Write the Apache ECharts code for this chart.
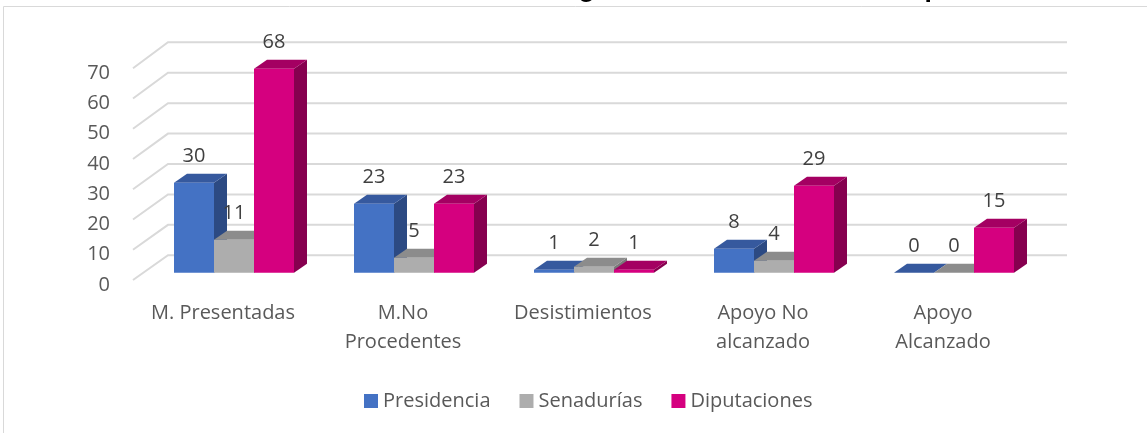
<!DOCTYPE html>
<html>
<head>
<meta charset="utf-8">
<script src="https://cdn.jsdelivr.net/npm/echarts@6/dist/echarts.min.js"></script>
<style>html,body{margin:0;padding:0;background:#fff;}#c{width:1147px;height:433px;}</style>
</head>
<body>
<div id="c"></div>
<script>
const categories = ['M. Presentadas', 'M.No\nProcedentes', 'Desistimientos', 'Apoyo No\nalcanzado', 'Apoyo\nAlcanzado'];
const seriesNames = ['Presidencia', 'Senadurías', 'Diputaciones'];
const presidencia = [30, 23, 1, 8, 0];
const senadurias = [11, 5, 2, 4, 0];
const diputaciones = [68, 23, 1, 29, 15];
const yTicks = [0, 10, 20, 30, 40, 50, 60, 70];
const titleText = 'Gráfica 1. Estatus de registro de candidaturas independientes';

const FONT = '"Open Sans", sans-serif';
const palettes = [
  { front: '#4472C4', top: '#36599E', side: '#2C4A83' },
  { front: '#ADADAD', top: '#8C8C8C', side: '#7A7A7A' },
  { front: '#D5007F', top: '#A40062', side: '#86004F' }
];
const DEPTH_X = 13, DEPTH_Y = -9;      // bar depth
const SHIFT_X = 11, SHIFT_Y = -7.3;    // bar plane offset from front plane
const WALL_X = 35;                     // back wall offset

function gridRender(params, api) {
  const cs = params.coordSys;
  const v = api.value(1);
  const y = api.coord([0, v])[1];
  const frac = (cs.y + cs.height - y) / cs.height;
  const dy = -(24.7 + 1.3 * frac);
  return {
    type: 'polyline',
    shape: { points: [[cs.x, y], [cs.x + WALL_X, y + dy], [cs.x + cs.width + 34, y + dy]] },
    style: { stroke: '#D9D9D9', lineWidth: 2, fill: null },
    silent: true
  };
}

function barRender(k) {
  return function (params, api) {
    const i = api.value(0);
    const v = api.value(1);
    const base = api.coord([i, 0]);
    const top = api.coord([i, v]);
    const bw = api.size([1, 0])[0] * 2 / 9;
    const x = base[0] - 1.5 * bw + k * bw + SHIFT_X;
    const baseY = base[1] + SHIFT_Y;
    const h = (base[1] - top[1]) * 0.992;
    const topY = baseY - h;
    const p = palettes[k];
    return {
      type: 'group',
      children: [
        { type: 'polygon', z2: k * 3 + 1,
          shape: { points: [[x + bw, topY], [x + bw + DEPTH_X, topY + DEPTH_Y], [x + bw + DEPTH_X, baseY + DEPTH_Y], [x + bw, baseY]] },
          style: { fill: p.side } },
        { type: 'polygon', z2: k * 3 + 2,
          shape: { points: [[x, topY], [x + DEPTH_X, topY + DEPTH_Y], [x + bw + DEPTH_X, topY + DEPTH_Y], [x + bw, topY]] },
          style: { fill: p.top } },
        { type: 'rect', z2: k * 3 + 3,
          shape: { x: x, y: topY, width: bw, height: h },
          style: { fill: p.front } },
        { type: 'text', z2: 100,
          style: { x: x + bw / 2, y: topY - 26, text: String(v), fill: '#404040',
                   font: '20px ' + FONT, align: 'center', verticalAlign: 'middle' } }
      ]
    };
  };
}

const values = [presidencia, senadurias, diputaciones];
const barSeries = values.map((arr, k) => ({
  name: seriesNames[k],
  type: 'custom',
  renderItem: barRender(k),
  itemStyle: { color: palettes[k].front },
  encode: { x: 0, y: 1 },
  data: arr.map((v, i) => [i, v])
}));

const chart = echarts.init(document.getElementById('c'), null, { renderer: 'canvas' });
chart.setOption({
  animation: false,
  color: palettes.map(p => p.front),
  title: {
    text: titleText,
    left: 284, top: -24.3, padding: 0,
    textStyle: { fontFamily: '"Liberation Sans", Arial, sans-serif', fontSize: 26.5, fontWeight: 'bold', color: '#000' }
  },
  graphic: [{
    type: 'rect', silent: true, z: -10,
    shape: { x: 3.5, y: 6.5, width: 1200, height: 500 },
    style: { fill: null, stroke: '#D9D9D9', lineWidth: 1 }
  }],
  grid: { left: 133, right: 114, top: 68.3, bottom: 153, containLabel: false },
  xAxis: {
    type: 'category',
    data: categories,
    axisLine: { show: false },
    axisTick: { show: false },
    axisLabel: { fontFamily: FONT, fontSize: 20, color: '#595959', lineHeight: 29, margin: 18.5, interval: 0 }
  },
  yAxis: {
    type: 'value',
    min: 0, max: 70, interval: 10,
    axisLine: { show: false },
    axisTick: { show: false },
    splitLine: { show: false },
    axisLabel: {
      margin: 23,
      formatter: '{v|{value}}',
      rich: { v: { fontFamily: FONT, fontSize: 20, color: '#595959', padding: [10, 0, 0, 0] } }
    }
  },
  legend: {
    data: seriesNames,
    icon: 'rect',
    itemWidth: 14, itemHeight: 14, itemGap: 29,
    left: 359, top: 386,
    textStyle: { fontFamily: FONT, fontSize: 20, color: '#595959' }
  },
  series: [{
    type: 'custom',
    renderItem: gridRender,
    silent: true,
    z: 1,
    encode: { x: 0, y: 1 },
    data: yTicks.map(v => [0, v])
  }].concat(barSeries)
});
</script>
</body>
</html>
